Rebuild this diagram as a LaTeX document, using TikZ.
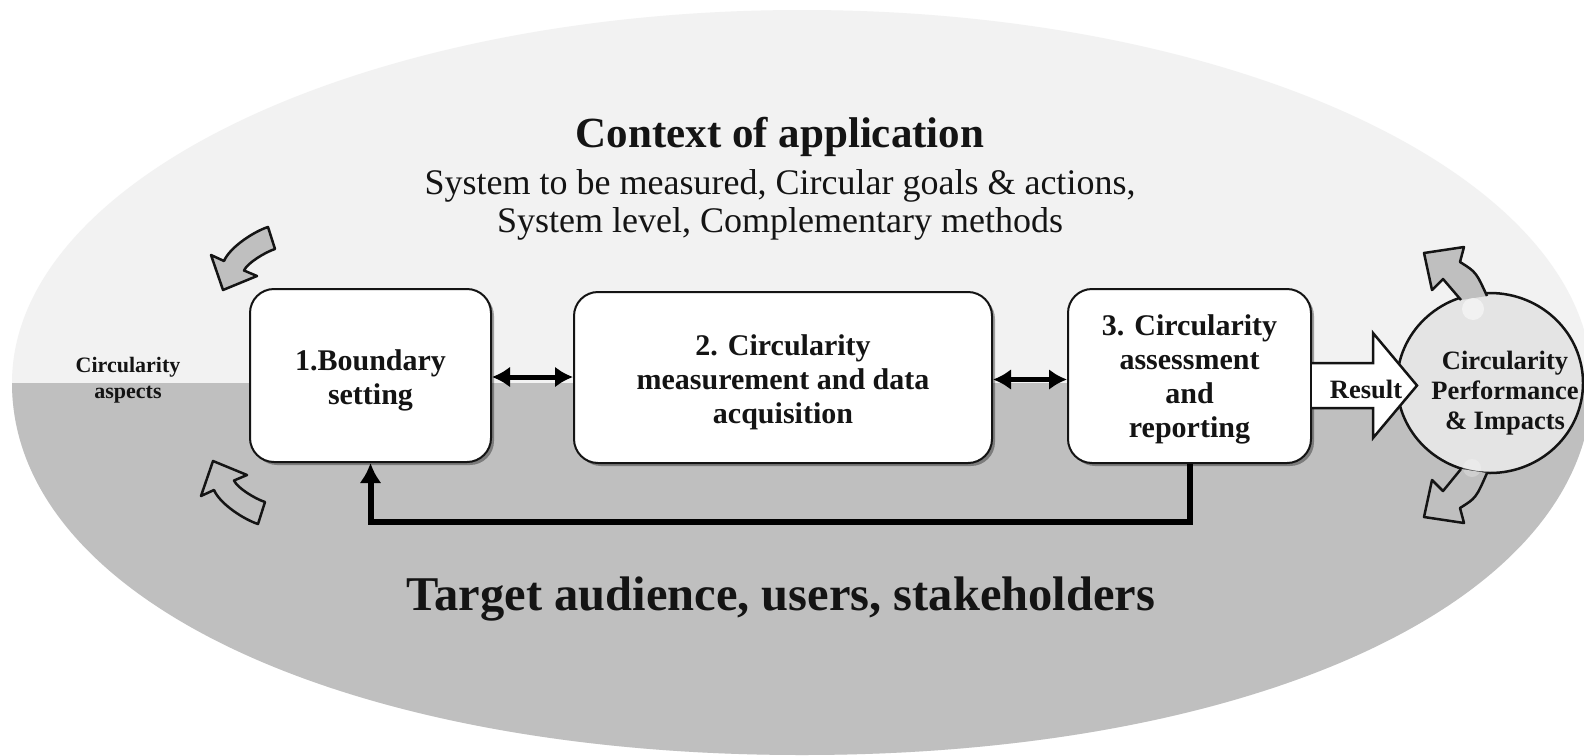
\documentclass[tikz,border=0pt]{standalone}
\usepackage{fontspec}
\setmainfont{Liberation Serif}
\usetikzlibrary{arrows.meta,shadows,shapes.geometric}
\definecolor{uppergray}{HTML}{F2F2F2}
\definecolor{lowergray}{HTML}{BFBFBF}
\definecolor{circfill}{HTML}{E4E4E4}
\definecolor{ink}{HTML}{141414}
\newcommand\lowertext[2]{\raisebox{-#1}[\height][\depth]{\begin{tabular}{@{}c@{}}#2\end{tabular}}}
\begin{document}
\begin{tikzpicture}[x=1pt,y=-1pt,
  stepbox/.style={draw=ink, line width=2pt, fill=white, rounded corners=24pt,
    align=center, text=ink, font=\bfseries\fontsize{30}{34}\selectfont, inner sep=0pt,
    drop shadow={shadow xshift=3pt, shadow yshift=-3pt, opacity=0.35, fill=black}},
  dbl/.style={draw=black, line width=5pt, {Latex[length=18pt,width=21pt]}-{Latex[length=18pt,width=21pt]}},
  fbline/.style={draw=black, line width=6pt, -{Latex[length=20pt,width=22pt]}},
  carrowfill/.style={fill=lowergray},
  carrowline/.style={draw=ink, line width=2.5pt, line join=round},
  lbl/.style={text=ink, inner sep=0pt}]
\useasboundingbox (0,0) rectangle (1584,755);
\fill[white] (0,0) rectangle (1584,755);
\def\ovalpath{(12,383) .. controls (12,177) and (366,10) .. (802,10) .. controls (1238,10) and (1592,177) .. (1592,383) .. controls (1592,599) and (1260,755) .. (802,755) .. controls (344,755) and (12,599) .. (12,383) -- cycle}
\fill[uppergray] \ovalpath;
\begin{scope}
  \clip (0,383) rectangle (1600,800);
  \fill[lowergray] \ovalpath;
\end{scope}

% left curved arrows
\path[carrowfill,carrowline] (268,227) .. controls (254,231.5) and (230,247) .. (224,261) -- (211,255) -- (223,290) -- (257,276) -- (244,270.5) .. controls (247.3,263) and (265.5,252) .. (275,249) -- cycle;
\path[carrowfill,carrowline] (258,524) .. controls (244,519.5) and (220,504) .. (214,490) -- (201,496) -- (213,461) -- (247,475) -- (234,480.5) .. controls (237.3,488) and (255.5,499) .. (265,502) -- cycle;

\node[lbl, align=center, font=\bfseries\fontsize{22}{26}\selectfont] (asp) at (128,380) {Circularity\\aspects};

% titles
\node[lbl, font=\bfseries\fontsize{43}{48}\selectfont] (ctx) at (780,137) {Context of application};
\node[lbl, align=center, font=\fontsize{36}{38}\selectfont] (sys) at (780,205) {System to be measured, Circular goals \& actions,\\System level, Complementary methods};
\node[lbl, font=\bfseries\fontsize{48.5}{52}\selectfont] (aud) at (781,599) {Target audience, users, stakeholders};

% boxes
\node[stepbox, minimum width=241pt, minimum height=173pt] (b1) at (370.5,375.5) {\lowertext{5pt}{1.Boundary\\setting}};
\node[stepbox, minimum width=418pt, minimum height=171pt] (b2) at (783,377.5) {\lowertext{5pt}{2. Circularity\\measurement and data\\acquisition}};
\node[stepbox, minimum width=243pt, minimum height=174pt] (b3) at (1189.5,376) {\lowertext{4pt}{3. Circularity\\assessment\\and\\reporting}};

% connectors
\draw[dbl] ([yshift=-1.5pt]b1.east) -- ([yshift=-1.5pt]b1.east -| b2.west);
\draw[dbl] ([yshift=-2pt]b2.east) -- ([yshift=-2pt]b2.east -| b3.west);
\draw[fbline] (b3.south) -- ++(0,58) -| (b1.south);

% circle
\node[ellipse, draw=ink, line width=2.5pt, fill=circfill, minimum width=186pt, minimum height=180pt, inner sep=0pt] (perf) at (1490,383) {};

% right curved arrows
\fill[carrowfill] (1461,300) .. controls (1452,290) .. (1443,279) -- (1432,290) -- (1424,253) -- (1464,247) -- (1460,262) .. controls (1476,272) .. (1487,296) -- cycle;
\draw[carrowline] (1461,300) .. controls (1452,290) .. (1443,279) -- (1432,290) -- (1424,253) -- (1464,247) -- (1460,262) .. controls (1476,272) .. (1487,296);
\fill[carrowfill] (1461,469) .. controls (1452,480) .. (1443,491) -- (1432,480) -- (1424,517) -- (1464,523) -- (1460,508) .. controls (1476,498) .. (1487,473) -- cycle;
\draw[carrowline] (1461,469) .. controls (1452,480) .. (1443,491) -- (1432,480) -- (1424,517) -- (1464,523) -- (1460,508) .. controls (1476,498) .. (1487,473);
\fill[white, opacity=0.5] (1473,309) circle (11pt);
\fill[white, opacity=0.25] (1472,468) circle (9pt);

% result arrow
\draw[ink, fill=white, line width=2.5pt, line join=miter] ([yshift=13pt]b3.east) -- (1373,363) -- (1373,333) -- (1417,385.5) -- (1373,438) -- (1373,408) -- ([yshift=-32pt]b3.east);
\node[lbl, font=\bfseries\fontsize{26.5}{30}\selectfont] (res) at (1366,389) {Result};

\node[lbl, align=center, font=\bfseries\fontsize{26.5}{30}\selectfont] (perftxt) at (1505,393) {Circularity\\Performance\\\& Impacts};
\end{tikzpicture}
\end{document}
